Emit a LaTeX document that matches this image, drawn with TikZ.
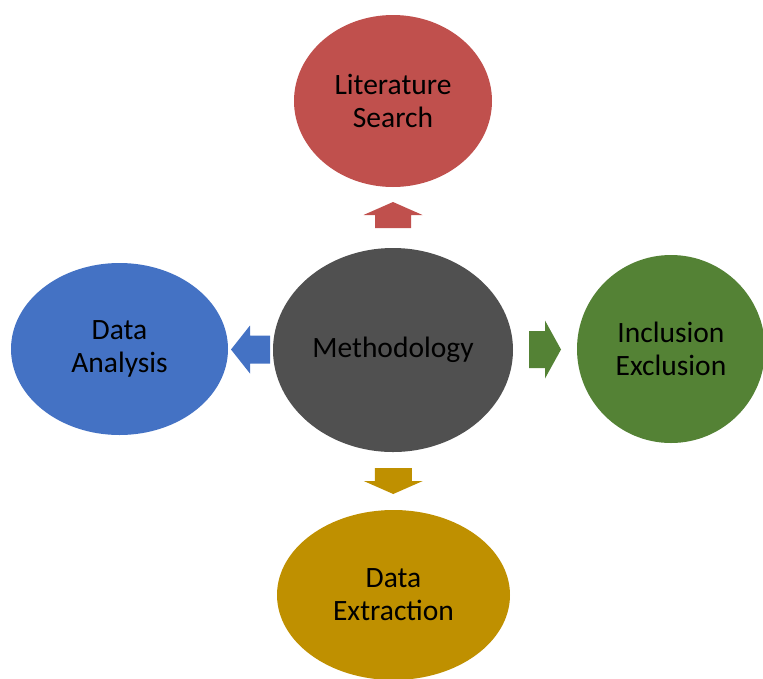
\documentclass[tikz,border=0pt]{standalone}
\usepackage{fontspec}
\setmainfont{Carlito}
\usetikzlibrary{shapes.geometric,calc}

\definecolor{searchred}{HTML}{C0504D}
\definecolor{analysisblue}{HTML}{4472C4}
\definecolor{inclusiongreen}{HTML}{548235}
\definecolor{extractiongold}{HTML}{BF9000}
\definecolor{methodgray}{HTML}{505050}

\tikzset{
    stage/.style={ellipse, inner sep=0pt, align=center, text=black,
        font=\fontsize{29.5}{33}\selectfont},
    % block arrow pointing along +x, centred on the pic origin:
    % length / shaft half width / head half width / head length / colour
    pics/blockarrow/.style n args={5}{code={
        \fill[#5] ({-#1/2},{-#2}) -- ({#1/2-#4},{-#2}) -- ({#1/2-#4},{-#3})
            -- ({#1/2},0) -- ({#1/2-#4},{#3}) -- ({#1/2-#4},{#2})
            -- ({-#1/2},{#2}) -- cycle;
    }}
}

\begin{document}
\begin{tikzpicture}[x=1pt, y=-1pt]
    \useasboundingbox (0,0) rectangle (763,678);

    % Stages
    \node[stage, fill=methodgray, minimum width=240pt, minimum height=204pt] (method) at (393,350) {Methodology};
    \node[stage, fill=searchred, minimum width=198pt, minimum height=172pt] (search) at (393,101) {Literature\\Search};
    \node[stage, fill=analysisblue, minimum width=217pt, minimum height=172pt] (analysis) at (119.5,349) {Data\\Analysis};
    \node[stage, fill=inclusiongreen, minimum width=188pt, minimum height=188pt] (inclusion) at (671,349) {Inclusion\\Exclusion};
    \node[stage, fill=extractiongold, minimum width=233pt, minimum height=170pt] (extraction) at (393.5,595) {Data\\Extraction};

    % Arrows out of the centre
    \coordinate (toSearch) at ($(method.north)!0.5!(search.south)+(0,-2.5)$);
    \coordinate (toAnalysis) at ($(method.west)!0.5!(analysis.east)$);
    \coordinate (toInclusion) at ($(method.east)!0.5!(inclusion.west)$);
    \coordinate (toExtraction) at ($(method.south)!0.5!(extraction.north)$);

    \pic[rotate=90] at (toSearch) {blockarrow={26}{18}{29.5}{13}{searchred}};
    \pic[rotate=180] at (toAnalysis) {blockarrow={39}{14}{24}{19}{analysisblue}};
    \pic at (toInclusion) {blockarrow={32}{18.5}{29}{16}{inclusiongreen}};
    \pic[rotate=-90] at (toExtraction) {blockarrow={26}{18.5}{29.5}{13}{extractiongold}};
\end{tikzpicture}
\end{document}
